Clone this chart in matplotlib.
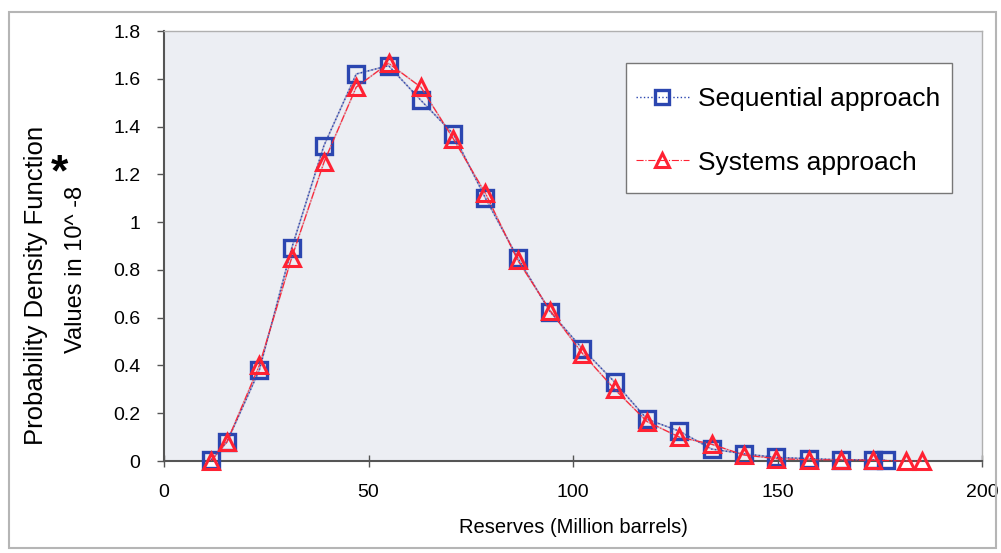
import matplotlib
matplotlib.use("Agg")
import matplotlib.pyplot as plt
from matplotlib.patches import Rectangle

# Data
seq_x = [11.5, 15.4, 23.3, 31.2, 39.1, 47.0, 54.9, 62.8, 70.7, 78.6, 86.5, 94.4,
         102.3, 110.2, 118.1, 126.0, 133.9, 141.8, 149.7, 157.6, 165.5, 173.4, 176.5]
seq_y = [0.005, 0.08, 0.38, 0.89, 1.32, 1.62, 1.655, 1.51, 1.37, 1.10, 0.85, 0.625,
         0.47, 0.33, 0.175, 0.125, 0.05, 0.03, 0.015, 0.01, 0.005, 0.005, 0.003]
sys_x = [11.5, 15.4, 23.3, 31.2, 39.1, 47.0, 54.9, 62.8, 70.7, 78.6, 86.5, 94.4,
         102.3, 110.2, 118.1, 126.0, 133.9, 141.8, 149.7, 157.6, 165.5, 173.4, 181.3, 185.3]
sys_y = [0.0, 0.08, 0.40, 0.85, 1.25, 1.565, 1.665, 1.565, 1.35, 1.12, 0.84, 0.63,
         0.45, 0.30, 0.165, 0.10, 0.07, 0.025, 0.01, 0.005, 0.005, 0.003, 0.0, 0.0]

x_ticks = [0, 50, 100, 150, 200]
y_ticks = [0, 0.2, 0.4, 0.6, 0.8, 1.0, 1.2, 1.4, 1.6, 1.8]
y_tick_labels = ["0", "0.2", "0.4", "0.6", "0.8", "1", "1.2", "1.4", "1.6", "1.8"]

plt.rcParams['font.family'] = ['Liberation Sans', 'DejaVu Sans']

W, H = 1001, 553
fig = plt.figure(figsize=(W/100, H/100), dpi=100)
fig.patch.set_facecolor('white')
ax = fig.add_axes([164/W, 1 - 461/H, (982 - 164)/W, (461 - 31)/H])
ax.set_facecolor('#eceef3')

blue = '#2b46b0'
red = '#ff2233'

# faint connecting lines like the reference
ax.plot(seq_x, seq_y, color='#8080b0', linewidth=1.2, alpha=0.6, zorder=2)
ax.plot(sys_x, sys_y, color='#d08090', linewidth=1.2, alpha=0.6, zorder=2)
ax.plot(seq_x, seq_y, color=blue, linestyle=':', linewidth=1.0, marker='s',
        markersize=11, markerfacecolor='none', markeredgecolor=blue,
        markeredgewidth=2.4, label='Sequential approach', clip_on=False, zorder=3)
ax.plot(sys_x, sys_y, color=red, linestyle='-.', linewidth=0.8, marker='^',
        markersize=11, markerfacecolor='none', markeredgecolor=red,
        markeredgewidth=2.2, label='Systems approach', clip_on=False, zorder=4)

ax.set_xlim(0, 200)
ax.set_ylim(0, 1.8)
ax.set_xticks(x_ticks)
ax.set_xticklabels([str(t) for t in x_ticks], fontsize=14)
ax.set_yticks(y_ticks)
ax.set_yticklabels(y_tick_labels, fontsize=14)
ax.tick_params(axis='x', direction='inout', length=9, width=1, color='#555555', pad=12)
ax.tick_params(axis='y', direction='out', length=5, width=1, color='#555555', pad=12)

for s in ['left', 'bottom']:
    ax.spines[s].set_color('#555555')
    ax.spines[s].set_linewidth(1.5)
for s in ['top', 'right']:
    ax.spines[s].set_color('#b0b0b0')
    ax.spines[s].set_linewidth(1.0)

ax.set_xlabel('Reserves (Million barrels)', fontsize=14.5, labelpad=12)

fig.text(36/W, 1 - 285/H, 'Probability Density Function', rotation=90,
         ha='center', va='center', fontsize=18.5)
fig.text(76/W, 1 - 269/H, 'Values in 10^ -8', rotation=90,
         ha='center', va='center', fontsize=17)
fig.text(59/W, 1 - 174/H, '*', ha='center', va='center', fontsize=32,
         fontweight='bold')

# legend box (white, gray edge) then the legend without its own frame
fig.patches.append(Rectangle((626/W, 1 - 193/H), (952 - 626)/W, (193 - 63)/H,
                             transform=fig.transFigure, facecolor='white',
                             edgecolor='#777777', linewidth=1.0, zorder=5))
leg = fig.legend(*ax.get_legend_handles_labels(), loc='upper left',
                 bbox_to_anchor=(636/W, 1 - 87/H), borderaxespad=0, borderpad=0,
                 fontsize=19, frameon=False, handlelength=2.0, handletextpad=0.35,
                 labelspacing=1.5)
leg.set_zorder(6)
leg.legend_handles[0].set_markersize(10)
leg.legend_handles[1].set_markersize(10)

fig.patches.append(Rectangle((9/W, 1 - 548/H), (996 - 9)/W, (548 - 12)/H,
                             transform=fig.transFigure, fill=False,
                             edgecolor='#b5b5b5', linewidth=1.5))

fig.savefig('out.png', dpi=100)
